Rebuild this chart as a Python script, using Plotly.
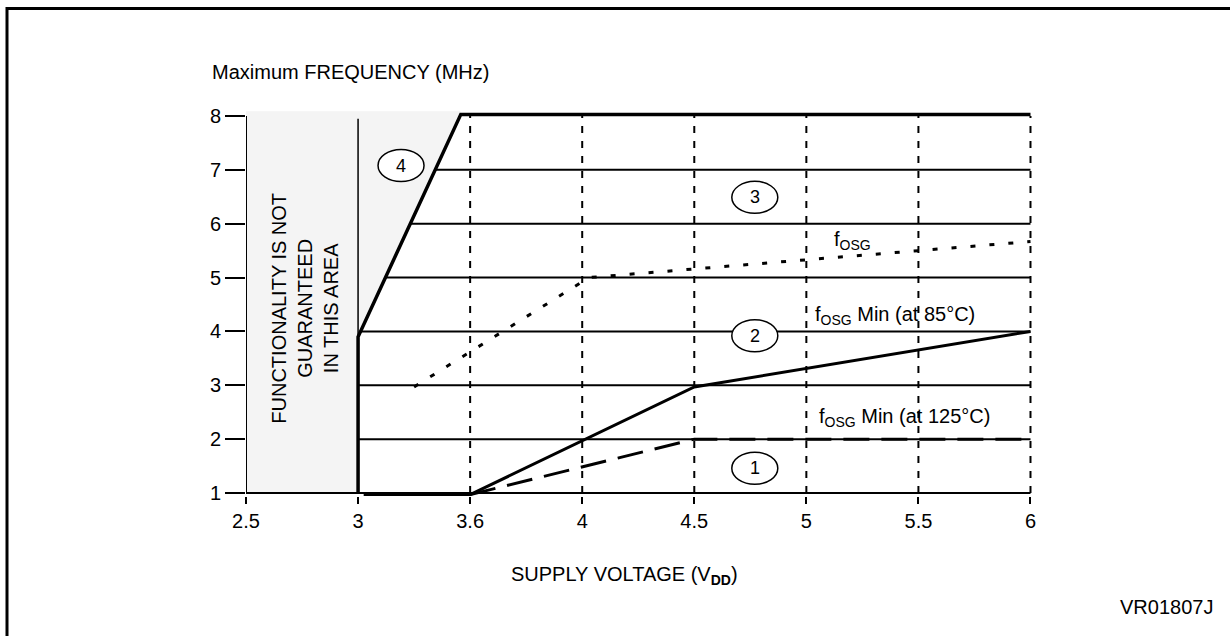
import numpy as np
import plotly.graph_objects as go

# ---------------- data ----------------
TICK_VOLTS = [2.5, 3, 3.6, 4, 4.5, 5, 5.5, 6]
TICK_TEXT = ["2.5", "3", "3.6", "4", "4.5", "5", "5.5", "6"]
FREQ_TICKS = [1, 2, 3, 4, 5, 6, 7, 8]

# boundary of the guaranteed area (curve 4 and the 8 MHz ceiling)
BOUND_V = [3.0, 3.0, 3.55, 6.0]
BOUND_F = [1.0, 3.9, 8.03, 8.03]

# non-guaranteed shaded area
SHADE_V = [2.5, 3.0, 3.0, 3.55, 2.5]
SHADE_F = [1.0, 1.0, 3.9, 8.09, 8.09]

# fOSG Min (at 85°C)
F85_V = [3.03, 3.6, 4.5, 6.0]
F85_F = [0.97, 0.97, 2.97, 4.0]

# fOSG Min (at 125°C)
F125_V = [3.6, 4.5, 6.0]
F125_F = [0.97, 2.0, 2.0]

# fOSG
FOSG_V = [3.30, 4.03, 6.0]
FOSG_F = [2.97, 5.0, 5.67]

REGION_TEXT = ["1", "2", "3", "4"]
REGION_V = [4.77, 4.77, 4.77, 3.23]
REGION_F = [1.46, 3.92, 6.49, 7.08]


def pos(v):
    """Map a voltage onto the (piecewise-linear) supply-voltage axis."""
    return np.interp(v, TICK_VOLTS, np.arange(len(TICK_VOLTS)))


# ---------------- layout geometry ----------------
W, H = 1230, 636
ML, MR, MT, MB = 246, 196, 110, 140
PW, PH = W - ML - MR, H - MT - MB
PX_X = 112.07          # pixels per axis step
PX_Y = 53.857          # pixels per MHz
XR = [0, PW / PX_X]
YR = [1 - (H - MB - 493) / PX_Y, 8 + (116 - MT) / PX_Y]


def paper_x(px):
    return (px - ML) / PW


def paper_y(py):
    return (H - MB - py) / PH


FONT = "Liberation Sans, Arial, Helvetica, sans-serif"
BLACK = "#000000"

fig = go.Figure()

# shaded area
fig.add_trace(go.Scatter(x=pos(SHADE_V), y=SHADE_F, mode="lines", fill="toself",
                         fillcolor="#f4f4f4", line=dict(width=0), hoverinfo="skip",
                         showlegend=False))

# horizontal grid lines (start at the boundary, end at 6 V)
gx, gy = [], []
for f in FREQ_TICKS[:-1]:
    if f == 1:
        x0 = pos(TICK_VOLTS[0])
    else:
        x0 = pos(np.interp(f, BOUND_F[:3], BOUND_V[:3]))
    gx += [x0, pos(TICK_VOLTS[-1]), None]
    gy += [f, f, None]
fig.add_trace(go.Scatter(x=gx, y=gy, mode="lines", line=dict(color=BLACK, width=2),
                         hoverinfo="skip", showlegend=False))

# y axis line
fig.add_trace(go.Scatter(x=[pos(TICK_VOLTS[0])] * 2, y=[FREQ_TICKS[0], FREQ_TICKS[-1]],
                         mode="lines", line=dict(color=BLACK, width=2),
                         hoverinfo="skip", showlegend=False))

# vertical dashed grid lines
vx, vy = [], []
for v in TICK_VOLTS[2:]:
    vx += [pos(v), pos(v), None]
    vy += [FREQ_TICKS[0], FREQ_TICKS[-1], None]
fig.add_trace(go.Scatter(x=vx, y=vy, mode="lines",
                         line=dict(color=BLACK, width=2, dash="7px,8px"),
                         hoverinfo="skip", showlegend=False))

# thin solid line at 3 V
fig.add_trace(go.Scatter(x=[pos(3.0)] * 2, y=[1.0, 7.95], mode="lines",
                         line=dict(color=BLACK, width=1.5), hoverinfo="skip",
                         showlegend=False))

# boundary (curve 4 + ceiling)
fig.add_trace(go.Scatter(x=pos(BOUND_V), y=BOUND_F, mode="lines",
                         line=dict(color=BLACK, width=3.5), hoverinfo="skip",
                         showlegend=False))

# fOSG Min 85°C
fig.add_trace(go.Scatter(x=pos(F85_V), y=F85_F, mode="lines",
                         line=dict(color=BLACK, width=3), hoverinfo="skip",
                         showlegend=False))

# fOSG Min 125°C
fig.add_trace(go.Scatter(x=pos(F125_V), y=F125_F, mode="lines",
                         line=dict(color=BLACK, width=3, dash="26px,12px"),
                         hoverinfo="skip", showlegend=False))

# fOSG
fig.add_trace(go.Scatter(x=pos(FOSG_V), y=FOSG_F, mode="lines",
                         line=dict(color=BLACK, width=3, dash="5px,14px"),
                         hoverinfo="skip", showlegend=False))

shapes = []
annotations = []
for t, v, f in zip(REGION_TEXT, REGION_V, REGION_F):
    shapes.append(dict(type="circle", xref="x", yref="y", xsizemode="pixel",
                       ysizemode="pixel", xanchor=pos(v), yanchor=f,
                       x0=-23, x1=23, y0=-16, y1=16, fillcolor="white",
                       line=dict(color=BLACK, width=1.5), layer="above"))
    annotations.append(dict(x=pos(v), y=f, xref="x", yref="y", text=t,
                            showarrow=False, font=dict(size=18, color=BLACK)))

# page border (left and top)
shapes.append(dict(type="path", xref="paper", yref="paper",
                   path=f"M {paper_x(7)},{paper_y(H + 5)} L {paper_x(7)},{paper_y(8.5)} "
                        f"L {paper_x(W + 5)},{paper_y(8.5)}",
                   line=dict(color=BLACK, width=3)))

annotations += [
    dict(x=5.226, y=5.68, xref="x", yref="y", xanchor="left", yanchor="middle",
         text="f<sub>OSG</sub>", showarrow=False, font=dict(size=20, color=BLACK)),
    dict(x=5.056, y=4.30, xref="x", yref="y", xanchor="left", yanchor="middle",
         text="f<sub>OSG</sub> Min (at 85°C)", showarrow=False,
         font=dict(size=20, color=BLACK)),
    dict(x=5.092, y=2.41, xref="x", yref="y", xanchor="left", yanchor="middle",
         text="f<sub>OSG</sub> Min (at 125°C)", showarrow=False,
         font=dict(size=20, color=BLACK)),
    dict(x=0.526, y=4.44, xref="x", yref="y", xanchor="center", yanchor="middle",
         text="FUNCTIONALITY IS NOT<br>GUARANTEED<br>IN THIS AREA", textangle=-90,
         showarrow=False, align="center", font=dict(size=20, color=BLACK)),
    dict(x=paper_x(210), y=paper_y(72), xref="paper", yref="paper", xanchor="left",
         yanchor="middle", text="Maximum FREQUENCY (MHz)", showarrow=False,
         font=dict(size=20, color=BLACK)),
    dict(x=paper_x(624), y=paper_y(575), xref="paper", yref="paper", xanchor="center",
         yanchor="middle", text="SUPPLY VOLTAGE (V<sub><b>DD</b></sub>)",
         showarrow=False, font=dict(size=20, color=BLACK)),
    dict(x=paper_x(1118), y=paper_y(607), xref="paper", yref="paper", xanchor="left",
         yanchor="middle", text="VR01807J", showarrow=False,
         font=dict(size=20, color=BLACK)),
]

fig.update_layout(
    width=W, height=H, autosize=False,
    margin=dict(l=ML, r=MR, t=MT, b=MB, pad=0),
    paper_bgcolor="white", plot_bgcolor="white",
    font=dict(family=FONT, size=20, color=BLACK),
    shapes=shapes, annotations=annotations,
    showlegend=False,
    xaxis=dict(range=XR, tickmode="array", tickvals=list(range(len(TICK_VOLTS))),
               ticktext=TICK_TEXT, ticks="outside", ticklen=7, tickwidth=2,
               tickcolor=BLACK, showgrid=False, zeroline=False, showline=False,
               fixedrange=True, tickfont=dict(size=20)),
    yaxis=dict(range=YR, tickmode="array", tickvals=FREQ_TICKS, ticks="outside",
               ticklen=20, tickwidth=2, tickcolor=BLACK, showgrid=False,
               zeroline=False, showline=False, fixedrange=True,
               tickfont=dict(size=20)),
)

fig.write_html("out.html", include_plotlyjs=True, full_html=True,
               config={"displayModeBar": False, "staticPlot": True},
               post_script="document.body.style.margin='0';document.body.style.overflow='hidden';")
